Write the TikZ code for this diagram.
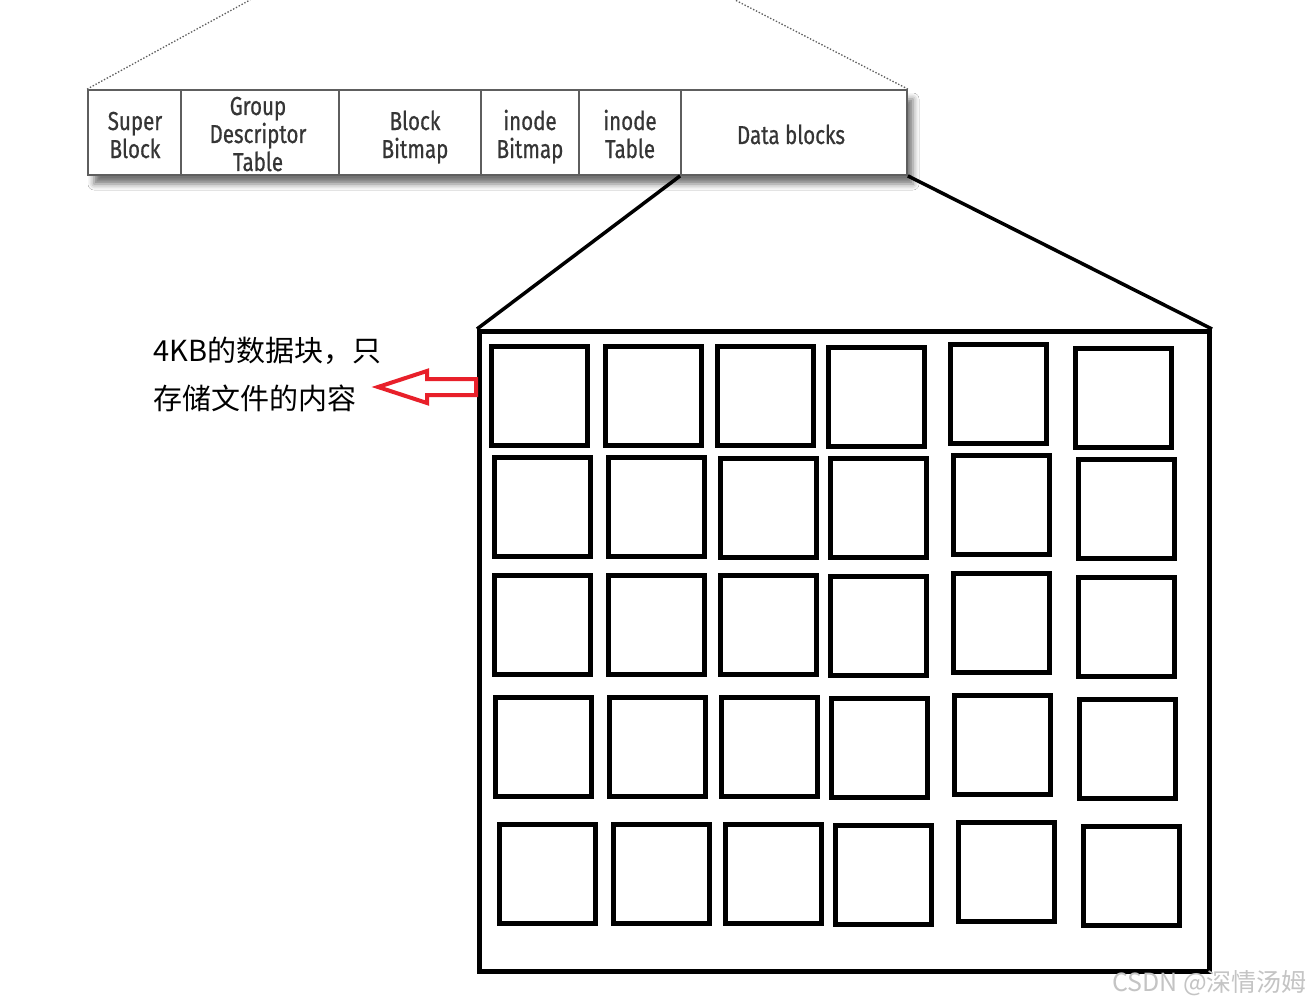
\documentclass[tikz,border=0pt]{standalone}
\usepackage{fontspec}
\newfontfamily\barfont[FakeStretch=0.79,FakeBold=0.6]{Fira Sans}
\newfontfamily\cjkfont{Noto Sans CJK SC}
\usetikzlibrary{shadows.blur}
\definecolor{barline}{HTML}{5E5E5E}
\definecolor{bartext}{HTML}{353535}
\definecolor{arrowred}{HTML}{E8202A}
\definecolor{wmgray}{HTML}{C4C4C4}
\begin{document}
\begin{tikzpicture}[x=1pt,y=-1pt,
  cell/.style={draw=barline, line width=1.8pt, fill=white, inner sep=0pt, minimum height=85pt},
  celltext/.style={font=\barfont\fontsize{26}{28}\selectfont, text=bartext, align=center, inner sep=0pt, anchor=base},
  blk/.style={draw=black, line width=5pt, inner sep=0pt, minimum width=96pt, minimum height=99pt},
  bigbox/.style={draw=black, line width=5pt, inner sep=0pt},
  zoomline/.style={black, line width=3.5pt},
  dotline/.style={barline, line width=1.3pt, dash pattern=on 1.4pt off 1.8pt},
  hollowarrow/.style={draw=arrowred, line width=4pt, line join=miter},
  note/.style={font=\cjkfont\fontsize{29}{48}\selectfont, align=left, anchor=base west, inner sep=0pt, text=black},
  watermark/.style={font=\cjkfont\fontsize{25}{25}\selectfont, text=wmgray, anchor=base east, inner sep=0pt}
]
\fill[white] (0,0) rectangle (1309,1006);
\useasboundingbox (0,0) rectangle (1309,1006);

% bar with shadow
\node[fill=white, inner sep=0pt, minimum width=819pt, minimum height=85pt,
      blur shadow={shadow xshift=6pt, shadow yshift=-9pt, shadow blur radius=6pt, shadow opacity=55}]
      (bar) at (497.5,132.5) {};
\node[cell, minimum width=93pt]  (c1) at (134.5,132.5) {};
\node[cell, minimum width=158pt] (c2) at (260,132.5) {};
\node[cell, minimum width=142pt] (c3) at (410,132.5) {};
\node[cell, minimum width=98pt]  (c4) at (530,132.5) {};
\node[cell, minimum width=102pt] (c5) at (630,132.5) {};
\node[cell, minimum width=226pt] (c6) at (794,132.5) {};

% anchor=base is the baseline of the last line
\node[celltext] (t1) at (135,158) {Super\\Block};
\node[celltext] (t2) at (258,171) {Group\\Descriptor\\Table};
\node[celltext] (t3) at (415,158) {Block\\Bitmap};
\node[celltext] (t4) at (530,158) {inode\\Bitmap};
\node[celltext] (t5) at (630,158) {inode\\Table};
\node[celltext] (t6) at (791,144) {Data blocks};

% dotted lines going up
\coordinate (dl) at (250,0);
\coordinate (dr) at (735,0);
\draw[dotline] (c1.north west) -- (dl);
\draw[dotline] (c6.north east) -- (dr);

% big box
\node[bigbox, minimum width=730pt, minimum height=639.5pt] (data) at (844.5,651.25) {};
\draw[zoomline] (c6.south west) -- (data.north west);
\draw[zoomline] (c6.south east) -- (data.north east);

% small blocks
\foreach \n/\x/\y in {
  11/489/344, 12/603/344, 13/715/344, 14/826/345, 15/948/342, 16/1073/346,
  21/492/455, 22/606/455, 23/718/456, 24/828/456, 25/951/453, 26/1076/457,
  31/492/573, 32/606/573, 33/718/573, 34/828/574, 35/951/571, 36/1076/575,
  41/493/695, 42/607/695, 43/719/695, 44/829/696, 45/952/693, 46/1077/697,
  51/497/822, 52/611/822, 53/723/822, 54/833/823, 55/956/820, 56/1081/824}
  \node[blk] (b\n) at (\x+50.5,\y+52) {};

% red hollow arrow
\draw[hollowarrow] (378,387) -- (427,371) -- (427,379) -- (476,379) -- (476,395) -- (427,395) -- (427,403) -- cycle;

% note (anchor base = last line baseline)
\node[note] (txt) at (153,409) {4KB的数据块，只\\存储文件的内容};

% watermark
\node[watermark] (wm) at (1307,991) {CSDN @深情汤姆};
\end{tikzpicture}
\end{document}
